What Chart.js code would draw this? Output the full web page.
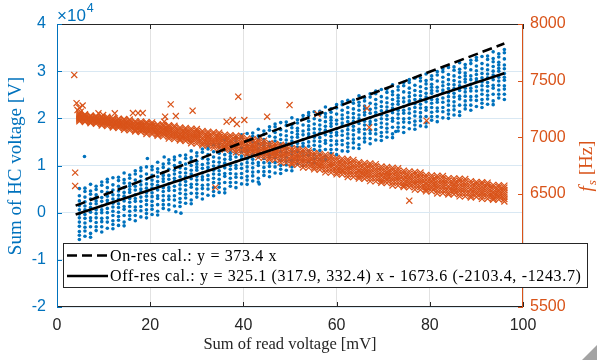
<!DOCTYPE html>
<html><head><meta charset="utf-8">
<script src="https://cdn.jsdelivr.net/npm/chart.js@4/dist/chart.umd.min.js"></script>
<style>html,body{margin:0;padding:0;background:#fff;overflow:hidden}canvas{display:block}</style>
</head><body>
<canvas id="c" width="597" height="360"></canvas>
<script>
// Sum of read voltage [mV] (x position of each measurement column)
const readVoltage_mV = [4.8,6.0,7.2,8.4,9.6,10.8,12.0,13.2,14.4,15.6,16.8,18.0,19.2,20.4,21.6,22.8,24.0,25.2,26.4,27.6,28.8,30.0,31.2,32.4,33.6,34.8,36.0,37.2,38.4,39.6,40.8,42.0,43.2,44.4,45.6,46.8,48.0,49.2,50.4,51.6,52.8,54.0,55.2,56.4,57.6,58.8,60.0,61.2,62.4,63.6,64.8,66.0,67.2,68.4,69.6,70.8,72.0,73.2,74.4,75.6,76.8,78.0,79.2,80.4,81.6,82.8,84.0,85.2,86.4,87.6,88.8,90.0,91.2,92.4,93.6,94.8,96.0];
// Sum of HC voltage, in units of 1e4 V, one list per column
const hcVoltage_e4 = [
[-0.57,-0.48,-0.40,-0.29,-0.20,-0.11,-0.03,0.06,0.15,0.25,0.36,0.51],
[-0.50,-0.39,-0.31,-0.22,-0.12,-0.04,0.06,0.14,0.23,0.33,0.45,0.52],
[-0.52,-0.44,-0.30,-0.17,-0.11,0.01,0.11,0.19,0.29,0.39,0.46,0.60],
[-0.38,-0.30,-0.21,-0.11,-0.02,0.06,0.19,0.25,0.32,0.38,0.49,0.56],
[-0.41,-0.30,-0.19,-0.12,0.00,0.06,0.14,0.24,0.32,0.45,0.58,0.65],
[-0.33,-0.20,-0.11,0.00,0.09,0.20,0.26,0.35,0.43,0.53,0.65,0.71],
[-0.34,-0.25,-0.17,-0.06,0.03,0.12,0.20,0.29,0.38,0.48,0.59,0.74],
[-0.27,-0.16,-0.08,0.01,0.11,0.19,0.29,0.37,0.46,0.56,0.68,0.75],
[-0.28,-0.20,-0.06,0.07,0.13,0.25,0.35,0.43,0.53,0.63,0.70,0.84],
[-0.14,-0.06,0.03,0.13,0.22,0.30,0.43,0.49,0.56,0.62,0.73,0.80],
[-0.17,-0.06,0.05,0.12,0.24,0.30,0.38,0.48,0.56,0.69,0.82,0.89],
[-0.09,0.04,0.13,0.24,0.33,0.44,0.50,0.59,0.67,0.77,0.89,0.95],
[-0.11,-0.02,0.06,0.17,0.26,0.35,0.43,0.52,0.61,0.71,0.82,0.97],
[-0.04,0.07,0.15,0.24,0.34,0.42,0.52,0.60,0.69,0.79,0.91,0.98],
[-0.05,0.03,0.17,0.30,0.36,0.48,0.58,0.66,0.76,0.86,0.93,1.07],
[0.09,0.17,0.26,0.36,0.45,0.53,0.66,0.72,0.79,0.85,0.96,1.03],
[0.06,0.17,0.28,0.35,0.47,0.53,0.61,0.71,0.79,0.92,1.05,1.12],
[0.14,0.27,0.36,0.47,0.56,0.67,0.73,0.82,0.90,1.00,1.12,1.18],
[0.13,0.22,0.30,0.41,0.50,0.59,0.67,0.76,0.85,0.95,1.06,1.21],
[0.20,0.31,0.39,0.48,0.58,0.66,0.76,0.84,0.93,1.03,1.15,1.22],
[0.19,0.27,0.41,0.54,0.60,0.72,0.82,0.90,1.00,1.10,1.17,1.31],
[0.33,0.41,0.50,0.60,0.69,0.77,0.90,0.96,1.03,1.09,1.20,1.27],
[0.29,0.40,0.51,0.58,0.70,0.76,0.84,0.94,1.02,1.15,1.28,1.35],
[0.37,0.50,0.59,0.70,0.79,0.90,0.96,1.05,1.13,1.23,1.35,1.41],
[0.36,0.45,0.53,0.64,0.73,0.82,0.90,0.99,1.08,1.18,1.29,1.44],
[0.43,0.54,0.62,0.71,0.81,0.89,0.99,1.07,1.16,1.26,1.38,1.45],
[0.42,0.50,0.64,0.77,0.83,0.95,1.05,1.13,1.23,1.33,1.40,1.54],
[0.56,0.64,0.73,0.83,0.92,1.00,1.13,1.19,1.26,1.32,1.43,1.50],
[0.53,0.64,0.75,0.82,0.94,1.00,1.08,1.18,1.26,1.39,1.52,1.59],
[0.61,0.74,0.83,0.94,1.03,1.14,1.20,1.29,1.37,1.47,1.59,1.65],
[0.60,0.69,0.77,0.88,0.97,1.06,1.14,1.23,1.32,1.42,1.53,1.68],
[0.67,0.78,0.86,0.95,1.05,1.13,1.23,1.31,1.40,1.50,1.62,1.69],
[0.65,0.73,0.87,1.00,1.06,1.18,1.28,1.36,1.46,1.56,1.63,1.77],
[0.79,0.87,0.96,1.06,1.15,1.23,1.36,1.42,1.49,1.55,1.66,1.73],
[0.76,0.87,0.98,1.05,1.17,1.23,1.31,1.41,1.49,1.62,1.75,1.82],
[0.84,0.97,1.06,1.17,1.26,1.37,1.43,1.52,1.60,1.70,1.82,1.88],
[0.83,0.92,1.00,1.11,1.20,1.29,1.37,1.46,1.55,1.65,1.76,1.91],
[0.90,1.01,1.09,1.18,1.28,1.36,1.46,1.54,1.63,1.73,1.85,1.92],
[0.89,0.97,1.11,1.24,1.30,1.42,1.52,1.60,1.70,1.80,1.87,2.01],
[1.03,1.11,1.20,1.30,1.39,1.47,1.60,1.66,1.73,1.79,1.90,1.97],
[1.00,1.11,1.22,1.29,1.41,1.47,1.55,1.65,1.73,1.86,1.99,2.06],
[1.08,1.21,1.30,1.41,1.50,1.61,1.67,1.76,1.84,1.94,2.06,2.12],
[1.06,1.15,1.23,1.34,1.43,1.52,1.60,1.69,1.78,1.88,1.99,2.14],
[1.13,1.24,1.32,1.41,1.51,1.59,1.69,1.77,1.86,1.96,2.08,2.15],
[1.12,1.20,1.34,1.47,1.53,1.65,1.75,1.83,1.93,2.03,2.10,2.24],
[1.26,1.34,1.43,1.53,1.62,1.70,1.83,1.89,1.96,2.02,2.13,2.20],
[1.23,1.34,1.45,1.52,1.64,1.70,1.78,1.88,1.96,2.09,2.22,2.29],
[1.31,1.44,1.53,1.64,1.73,1.84,1.90,1.99,2.07,2.17,2.29,2.35],
[1.30,1.39,1.47,1.58,1.67,1.76,1.84,1.93,2.02,2.12,2.23,2.38],
[1.37,1.48,1.56,1.65,1.75,1.83,1.93,2.01,2.10,2.20,2.32,2.39],
[1.36,1.44,1.58,1.71,1.77,1.89,1.99,2.07,2.17,2.27,2.34,2.48],
[1.50,1.58,1.67,1.77,1.86,1.94,2.07,2.13,2.20,2.26,2.37,2.44],
[1.46,1.57,1.68,1.75,1.87,1.93,2.01,2.11,2.19,2.32,2.45,2.52],
[1.54,1.67,1.76,1.87,1.96,2.07,2.13,2.22,2.30,2.40,2.52,2.58],
[1.53,1.62,1.70,1.81,1.90,1.99,2.07,2.16,2.25,2.35,2.46,2.61],
[1.60,1.71,1.79,1.88,1.98,2.06,2.16,2.24,2.33,2.43,2.55,2.62],
[1.59,1.67,1.81,1.94,2.00,2.12,2.22,2.30,2.40,2.50,2.57,2.71],
[1.73,1.81,1.90,2.00,2.09,2.17,2.30,2.36,2.43,2.49,2.60,2.67],
[1.70,1.81,1.92,1.99,2.11,2.17,2.25,2.35,2.43,2.56,2.69,2.76],
[1.78,1.91,2.00,2.11,2.20,2.31,2.37,2.46,2.54,2.64,2.76,2.82],
[1.77,1.86,1.94,2.05,2.14,2.23,2.31,2.40,2.49,2.59,2.70,2.85],
[1.84,1.95,2.03,2.12,2.22,2.30,2.40,2.48,2.57,2.67,2.79,2.86],
[1.82,1.90,2.04,2.17,2.23,2.35,2.45,2.53,2.63,2.73,2.80,2.94],
[1.96,2.04,2.13,2.23,2.32,2.40,2.53,2.59,2.66,2.72,2.83,2.90],
[1.93,2.04,2.15,2.22,2.34,2.40,2.48,2.58,2.66,2.79,2.92,2.99],
[2.01,2.14,2.23,2.34,2.43,2.54,2.60,2.69,2.77,2.87,2.99,3.05],
[2.00,2.09,2.17,2.28,2.37,2.46,2.54,2.63,2.72,2.82,2.93,3.08],
[2.07,2.18,2.26,2.35,2.45,2.53,2.63,2.71,2.80,2.90,3.02,3.09],
[2.06,2.14,2.28,2.41,2.47,2.59,2.69,2.77,2.87,2.97,3.04,3.18],
[2.20,2.28,2.37,2.47,2.56,2.64,2.77,2.83,2.90,2.96,3.07,3.14],
[2.17,2.28,2.39,2.46,2.58,2.64,2.72,2.82,2.90,3.03,3.16,3.23],
[2.25,2.38,2.47,2.58,2.67,2.78,2.84,2.93,3.01,3.11,3.23,3.29],
[2.23,2.32,2.40,2.51,2.60,2.69,2.77,2.86,2.95,3.05,3.16,3.31],
[2.30,2.41,2.49,2.58,2.68,2.76,2.86,2.94,3.03,3.13,3.25,3.32],
[2.29,2.37,2.51,2.64,2.70,2.82,2.92,3.00,3.10,3.20,3.27,3.41],
[2.43,2.51,2.60,2.70,2.79,2.87,3.00,3.06,3.13,3.19,3.30,3.37],
[2.40,2.51,2.62,2.69,2.81,2.87,2.95,3.05,3.13,3.26,3.39,3.46]
];
// f_s [Hz], one list per column
const fs_Hz = [
[7140,7150,7161,7170,7179,7189,7200,7208],
[7135,7145,7156,7165,7174,7183,7194,7203],
[7124,7131,7141,7152,7160,7171,7183,7192],
[7118,7130,7138,7148,7158,7166,7178,7188],
[7104,7116,7129,7139,7149,7161,7174,7184],
[7098,7111,7124,7135,7146,7156,7169,7180],
[7086,7095,7106,7120,7129,7143,7156,7167],
[7082,7096,7106,7117,7129,7138,7153,7164],
[7066,7080,7095,7107,7119,7133,7148,7160],
[7061,7076,7091,7103,7116,7129,7144,7156],
[7051,7061,7073,7089,7099,7114,7130,7142],
[7046,7062,7072,7086,7099,7110,7125,7139],
[7029,7045,7061,7075,7088,7105,7121,7134],
[7025,7041,7058,7072,7086,7100,7117,7131],
[7012,7023,7037,7055,7066,7083,7100,7114],
[7007,7025,7036,7051,7066,7078,7095,7110],
[6988,7006,7024,7039,7054,7072,7090,7105],
[6983,7002,7020,7036,7051,7067,7086,7101],
[6971,6984,6999,7018,7031,7050,7069,7085],
[6967,6986,6999,7015,7032,7045,7064,7081],
[6947,6967,6987,7003,7020,7039,7059,7076],
[6943,6963,6984,7001,7018,7035,7055,7072],
[6929,6943,6960,6981,6995,7016,7036,7054],
[6926,6947,6961,6979,6997,7011,7032,7049],
[6906,6927,6949,6966,6984,7005,7027,7044],
[6903,6925,6946,6964,6982,7000,7022,7040],
[6891,6905,6923,6945,6960,6982,7004,7022],
[6888,6910,6925,6944,6962,6977,6999,7018],
[6867,6889,6912,6931,6950,6972,6995,7013],
[6864,6887,6910,6929,6948,6968,6991,7010],
[6849,6864,6884,6907,6923,6946,6970,6989],
[6846,6869,6885,6904,6924,6939,6963,6982],
[6822,6846,6869,6889,6909,6933,6956,6976],
[6818,6842,6866,6886,6906,6926,6950,6970],
[6803,6819,6839,6863,6879,6903,6927,6947],
[6800,6824,6840,6860,6880,6896,6920,6940],
[6777,6801,6825,6845,6865,6889,6913,6933],
[6774,6798,6822,6842,6862,6882,6906,6926],
[6759,6775,6795,6819,6835,6859,6883,6903],
[6756,6780,6796,6816,6836,6852,6876,6896],
[6733,6757,6781,6801,6821,6845,6869,6889],
[6731,6755,6779,6799,6819,6839,6863,6883],
[6716,6732,6752,6776,6792,6816,6840,6860],
[6713,6737,6753,6773,6793,6809,6833,6853],
[6690,6714,6738,6758,6778,6802,6826,6846],
[6687,6711,6735,6755,6775,6795,6819,6839],
[6672,6688,6708,6732,6748,6772,6796,6816],
[6671,6695,6711,6731,6751,6767,6791,6811],
[6649,6673,6697,6717,6737,6761,6785,6805],
[6648,6672,6696,6716,6736,6756,6780,6800],
[6635,6651,6671,6695,6711,6735,6759,6779],
[6633,6657,6673,6693,6713,6729,6753,6773],
[6612,6636,6660,6680,6700,6724,6748,6768],
[6610,6634,6658,6678,6698,6718,6742,6762],
[6597,6613,6633,6657,6673,6697,6721,6741],
[6596,6620,6636,6656,6676,6692,6716,6736],
[6574,6598,6622,6642,6662,6686,6710,6730],
[6573,6597,6621,6641,6661,6681,6705,6725],
[6560,6576,6596,6620,6636,6660,6684,6704],
[6558,6582,6598,6618,6638,6654,6678,6698],
[6537,6561,6585,6605,6625,6649,6673,6693],
[6536,6560,6584,6604,6624,6644,6668,6688],
[6522,6538,6558,6582,6598,6622,6646,6666],
[6522,6546,6562,6582,6602,6618,6642,6662],
[6503,6527,6551,6571,6591,6615,6639,6659],
[6505,6529,6553,6573,6593,6613,6637,6657],
[6494,6510,6530,6554,6570,6594,6618,6638],
[6496,6520,6536,6556,6576,6592,6616,6636],
[6477,6501,6525,6545,6565,6589,6613,6633],
[6478,6502,6526,6546,6566,6586,6610,6630],
[6468,6484,6504,6528,6544,6568,6592,6612],
[6472,6495,6510,6529,6548,6564,6586,6605],
[6456,6478,6501,6520,6539,6561,6584,6602],
[6457,6480,6502,6520,6539,6557,6580,6598],
[6448,6462,6480,6502,6517,6539,6561,6579],
[6450,6471,6486,6504,6522,6536,6558,6576],
[6432,6454,6475,6493,6511,6533,6554,6572]
];
// isolated points
const hcOutlierX_mV = [5.9,19.4,23.0,25.5,26.6,43.4,72.7];
const hcOutlierY_e4 = [1.19,1.15,1.18,0.02,-0.01,0.61,1.72];
const fsOutlierX_mV = [3.7,4.2,4.8,5.5,4.4,5.1,3.9,3.9,8.9,9.9,12.4,16.3,17.4,18.4,24.4,29.1,25.5,23.2,23.0,38.9,36.4,37.7,40.2,38.6,34.0,45.1,49.9,55.9,66.5,67.0,79.3,75.6];
const fsOutlierY_Hz = [7550,7300,7260,7280,7240,7225,6687,6569,7211,7196,7211,7213,7213,7213,7290,7234,7187,7181,7137,7358,7137,7152,7152,7117,6557,7181,7284,7205,7255,7087,7146,6439];
// calibration fit lines (end points, 1e4 V)
const fitX_mV = [4, 96];
const onResFit_e4 = [0.149, 3.585];
const offResFit_e4 = [-0.037, 2.954];
// axes
const xTicks = [0,20,40,60,80,100];
const yLeftTicks = [-2,-1,0,1,2,3,4];
const yRightTicks = [5500,6000,6500,7000,7500,8000];
const legendLabels = ['On-res cal.: y = 373.4 x','Off-res cal.: y = 325.1 (317.9, 332.4) x - 1673.6 (-2103.4, -1243.7)'];

const BLUE = '#0072BD', ORANGE = '#D95319', DARK = '#262626';
const SERIF = '"Liberation Serif", "Times New Roman", serif';
const SANS = '"Liberation Sans", Arial, sans-serif';

const bluePts = [];
readVoltage_mV.forEach((x, i) => hcVoltage_e4[i].forEach(y => bluePts.push({x, y})));
hcOutlierX_mV.forEach((x, i) => bluePts.push({x, y: hcOutlierY_e4[i]}));
const orangePts = [];
readVoltage_mV.forEach((x, i) => fs_Hz[i].forEach(y => orangePts.push({x, y})));
fsOutlierX_mV.forEach((x, i) => orangePts.push({x, y: fsOutlierY_Hz[i]}));

function seg(ctx, x1, y1, x2, y2) { ctx.beginPath(); ctx.moveTo(x1, y1); ctx.lineTo(x2, y2); ctx.stroke(); }

const framePlugin = {
  id: 'frame',
  afterDatasetsDraw(chart) {
    const {ctx, chartArea: a} = chart;
    const sx = chart.scales.x, sy = chart.scales.y, sy2 = chart.scales.y2;
    ctx.save();
    ctx.lineWidth = 1;
    ctx.strokeStyle = DARK;
    seg(ctx, a.left, a.top + 0.5, a.right, a.top + 0.5);
    seg(ctx, a.left, a.bottom - 0.5, a.right, a.bottom - 0.5);
    xTicks.forEach(v => {
      const p = Math.round(sx.getPixelForValue(v)) + 0.5;
      seg(ctx, p, a.bottom, p, a.bottom - 5);
      seg(ctx, p, a.top, p, a.top + 5);
    });
    ctx.strokeStyle = BLUE;
    seg(ctx, a.left + 0.5, a.top, a.left + 0.5, a.bottom);
    yLeftTicks.forEach(v => {
      const p = Math.round(sy.getPixelForValue(v)) + 0.5;
      seg(ctx, a.left, p, a.left + 5, p);
    });
    ctx.strokeStyle = ORANGE;
    seg(ctx, a.right - 0.5, a.top, a.right - 0.5, a.bottom);
    yRightTicks.forEach(v => {
      const p = Math.round(sy2.getPixelForValue(v)) + 0.5;
      seg(ctx, a.right, p, a.right - 5, p);
    });
    ctx.restore();
  },
  afterDraw(chart) {
    const {ctx, chartArea: a} = chart;
    ctx.save();
    // axis titles
    ctx.fillStyle = DARK;
    ctx.font = '16.5px ' + SERIF;
    ctx.textAlign = 'center';
    ctx.textBaseline = 'alphabetic';
    ctx.fillText('Sum of read voltage [mV]', (a.left + a.right) / 2, 349);
    ctx.save();
    ctx.translate(21, 166);
    ctx.rotate(-Math.PI / 2);
    ctx.fillStyle = BLUE;
    ctx.font = '19px ' + SERIF;
    ctx.fillText('Sum of HC voltage [V]', 0, 0);
    ctx.restore();
    // right title: f_s [Hz]
    ctx.save();
    ctx.translate(592, 166);
    ctx.rotate(-Math.PI / 2);
    ctx.fillStyle = ORANGE;
    ctx.textAlign = 'left';
    const fF = 'italic 19px ' + SERIF, sF = 'italic 13px ' + SERIF, nF = '19px ' + SERIF;
    ctx.font = fF; const wf = ctx.measureText('f').width;
    ctx.font = sF; const ws = ctx.measureText('s').width;
    ctx.font = nF; const wr = ctx.measureText(' [Hz]').width;
    let px = -(wf + ws + 1 + wr) / 2;
    ctx.font = fF; ctx.fillText('f', px, 0); px += wf + 1;
    ctx.font = sF; ctx.fillText('s', px, 3.5); px += ws;
    ctx.font = nF; ctx.fillText(' [Hz]', px, 0);
    ctx.restore();
    // exponent label
    ctx.fillStyle = BLUE;
    ctx.textAlign = 'left';
    ctx.font = '17px ' + SANS;
    ctx.fillText('\u00D710', 57, 21);
    const we = ctx.measureText('\u00D710').width;
    ctx.font = '12.5px ' + SANS;
    ctx.fillText('4', 57 + we + 1, 12);
    // legend
    const L = 63, T = 243, R = 588, B = 288;
    ctx.fillStyle = '#ffffff';
    ctx.fillRect(L, T, R - L, B - T);
    ctx.strokeStyle = DARK;
    ctx.lineWidth = 1;
    ctx.strokeRect(L + 0.5, T + 0.5, R - L - 1, B - T - 1);
    ctx.strokeStyle = '#000';
    ctx.lineWidth = 2.5;
    ctx.setLineDash([10, 5]);
    seg(ctx, 67, 255.5, 108, 255.5);
    ctx.setLineDash([]);
    seg(ctx, 67, 276, 108, 276);
    ctx.fillStyle = '#000';
    ctx.font = '16px ' + SERIF;
    if ('letterSpacing' in ctx) ctx.letterSpacing = '0.65px';
    ctx.fillText(legendLabels[0], 110, 260.5);
    ctx.fillText(legendLabels[1], 110, 281);
    if ('letterSpacing' in ctx) ctx.letterSpacing = '0px';
    // window resize grip
    ctx.fillStyle = '#a3a3a3';
    ctx.beginPath(); ctx.moveTo(582, 360); ctx.lineTo(597, 345); ctx.lineTo(597, 360); ctx.closePath(); ctx.fill();
    ctx.restore();
  }
};

const plainTick = v => String(v);

new Chart(document.getElementById('c'), {
  type: 'scatter',
  data: {
    datasets: [
      { label: 'On-res cal.', data: fitX_mV.map((x, i) => ({x, y: onResFit_e4[i]})), showLine: true, pointRadius: 0,
        borderColor: '#000', borderWidth: 2.6, borderDash: [10, 5], yAxisID: 'y', order: 0 },
      { label: 'Off-res cal.', data: fitX_mV.map((x, i) => ({x, y: offResFit_e4[i]})), showLine: true, pointRadius: 0,
        borderColor: '#000', borderWidth: 2.6, yAxisID: 'y', order: 0 },
      { label: 'f_s', data: orangePts, pointStyle: 'crossRot', pointRadius: 4.3, borderColor: ORANGE, borderWidth: 1.2,
        backgroundColor: ORANGE, yAxisID: 'y2', order: 1 },
      { label: 'HC voltage', data: bluePts, pointStyle: 'circle', pointRadius: 1.8, borderWidth: 0,
        backgroundColor: BLUE, yAxisID: 'y', order: 2 }
    ]
  },
  options: {
    responsive: false, animation: false, devicePixelRatio: 1,
    layout: { padding: { top: 24, left: 0, right: 0, bottom: 0 } },
    plugins: { legend: { display: false }, tooltip: { enabled: false } },
    events: [],
    scales: {
      x: {
        type: 'linear', min: 0, max: 100,
        afterBuildTicks: s => { s.ticks = xTicks.map(v => ({value: v})); },
        afterFit: s => { s.height = 53; },
        grid: { color: '#e2e2e2', drawTicks: false },
        border: { display: false },
        ticks: { color: DARK, font: { family: SANS, size: 16 }, padding: 9, maxRotation: 0, callback: plainTick }
      },
      y: {
        type: 'linear', position: 'left', min: -2, max: 4,
        afterBuildTicks: s => { s.ticks = yLeftTicks.map(v => ({value: v})); },
        afterFit: s => { s.width = 57; },
        grid: { color: '#d9e8f3', drawTicks: false },
        border: { display: false },
        ticks: { color: BLUE, font: { family: SANS, size: 16 }, padding: 11, callback: plainTick }
      },
      y2: {
        type: 'linear', position: 'right', min: 5500, max: 8000,
        afterBuildTicks: s => { s.ticks = yRightTicks.map(v => ({value: v})); },
        afterFit: s => { s.width = 74; },
        grid: { display: false, drawTicks: false },
        border: { display: false },
        ticks: { color: ORANGE, font: { family: SANS, size: 16 }, padding: 7, callback: plainTick }
      }
    }
  },
  plugins: [framePlugin]
});
</script>
</body></html>
